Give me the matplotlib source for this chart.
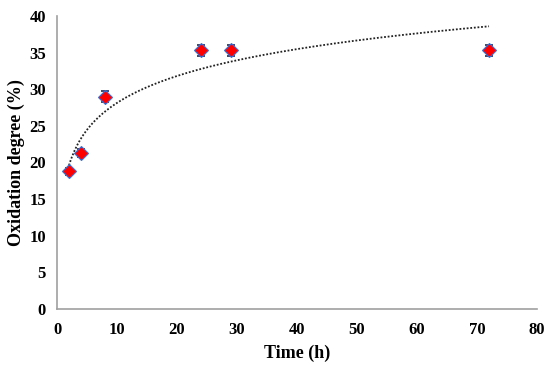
import numpy as np
import matplotlib
matplotlib.use("Agg")
import matplotlib.pyplot as plt

time_h = [2, 4, 8, 24, 29, 72]
oxidation = [18.8, 21.3, 29.0, 35.3, 35.3, 35.3]
errors = [0.5, 0.5, 0.7, 0.8, 0.8, 0.8]
x_ticks = [0, 10, 20, 30, 40, 50, 60, 70, 80]
y_ticks = [0, 5, 10, 15, 20, 25, 30, 35, 40]

plt.rcParams['font.family'] = ['Liberation Serif', 'DejaVu Serif']
fig = plt.figure(figsize=(5.5, 3.65), dpi=100)
ax = fig.add_axes([57/550, 1 - 309/365, 480/550, 293/365])

# logarithmic trend line
lx = np.log(time_h)
a, b = np.polyfit(lx, oxidation, 1)
xs = np.linspace(min(time_h), max(time_h), 300)
ax.plot(xs, a*np.log(xs) + b, linestyle=(0, (1, 1)), color='#222222', linewidth=1.3, zorder=2)

ax.errorbar(time_h, oxidation, yerr=errors, fmt='none', ecolor='#1f2a5a', elinewidth=1.2,
            capsize=3, capthick=1.2, zorder=3)
ax.plot(time_h, oxidation, linestyle='none', marker='D', markersize=7.5,
        markerfacecolor='red', markeredgecolor='#3a6fd8', markeredgewidth=0.8, zorder=4)

ax.set_xlim(0, 80)
ax.set_ylim(0, 40)
ax.set_xticks(x_ticks)
ax.set_yticks(y_ticks)
for s in ['top', 'right']:
    ax.spines[s].set_visible(False)
for s in ['left', 'bottom']:
    ax.spines[s].set_color('#a0a0a0')
    ax.spines[s].set_linewidth(1.2)
ax.tick_params(axis='y', length=0, labelsize=12, pad=8)
ax.tick_params(axis='x', length=0, labelsize=12, pad=9)
for lab in ax.get_xticklabels() + ax.get_yticklabels():
    lab.set_fontweight('bold')
ax.set_xlabel('Time (h)', fontsize=13, fontweight='bold', labelpad=5)
ax.set_ylabel('Oxidation degree (%)', fontsize=13, fontweight='bold')
ax.yaxis.set_label_coords(-32/480, 0.5)

fig.savefig('out.png', dpi=100)
